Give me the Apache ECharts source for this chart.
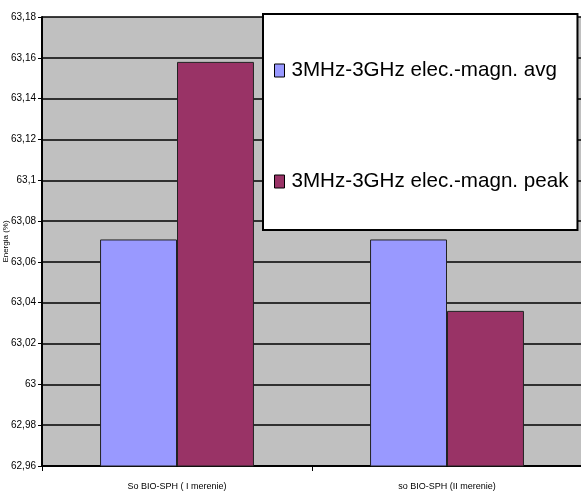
<!DOCTYPE html>
<html>
<head>
<meta charset="utf-8">
<script src="https://cdn.jsdelivr.net/npm/echarts@6/dist/echarts.min.js"></script>
<style>
  html, body { margin: 0; padding: 0; background: #fff; }
  #chart { width: 581px; height: 492px; }
</style>
</head>
<body>
<div id="chart"></div>
<script>
// Measurement groups
const categories = ['So BIO-SPH ( I merenie)', 'so BIO-SPH (II merenie)'];
// Series values (%)
const avgValues = [63.071, 63.071];
const peakValues = [63.158, 63.036];
const seriesNames = ['3MHz-3GHz elec.-magn. avg', '3MHz-3GHz elec.-magn. peak'];
// Value axis range
const yMin = 62.96;
const yMax = 63.18;
const yStep = 0.02;

const labelFont = "'Liberation Sans', Arial, sans-serif";
const chart = echarts.init(document.getElementById('chart'));

chart.setOption({
  animation: false,
  backgroundColor: '#ffffff',
  grid: {
    left: 42, top: 17, right: -1, bottom: 26,
    outerBoundsMode: 'none',
    containLabel: false,
    show: true,
    backgroundColor: '#c0c0c0',
    borderWidth: 0
  },
  legend: {
    orient: 'vertical',
    left: 263,
    top: 14,
    padding: [46, 9, 38, 11],
    itemGap: 90,
    itemWidth: 10,
    itemHeight: 13,
    icon: 'rect',
    backgroundColor: '#ffffff',
    borderColor: '#000000',
    borderWidth: 2,
    textStyle: {
      fontFamily: labelFont,
      fontSize: 20.6,
      color: '#000000',
      padding: [0, 0, 0, 2]
    },
    itemStyle: { borderColor: '#000000', borderWidth: 1 },
    data: seriesNames
  },
  xAxis: {
    type: 'category',
    data: categories,
    axisLine: { lineStyle: { color: '#000000', width: 2 } },
    axisTick: { show: true, length: 5, lineStyle: { color: '#000000', width: 1 } },
    axisLabel: {
      color: '#000000',
      fontFamily: labelFont,
      fontSize: 9,
      margin: 16
    },
    splitLine: { show: false }
  },
  yAxis: {
    type: 'value',
    min: yMin,
    max: yMax,
    interval: yStep,
    name: 'Energia (%)',
    nameLocation: 'middle',
    nameRotate: 90,
    nameGap: 32,
    nameMoveOverlap: false,
    nameTextStyle: { fontFamily: labelFont, fontSize: 8, color: '#000000' },
    axisLine: { show: true, lineStyle: { color: '#000000', width: 2 } },
    axisTick: { show: true, length: 4, lineStyle: { color: '#000000', width: 1 } },
    axisLabel: {
      color: '#000000',
      fontFamily: labelFont,
      fontSize: 10,
      margin: 6,
      formatter: v => String(Math.round(v * 100) / 100).replace('.', ',')
    },
    splitLine: { show: true, lineStyle: { color: '#000000', width: 1.6 } }
  },
  series: [
    {
      name: seriesNames[0],
      type: 'bar',
      data: avgValues,
      barGap: '0%',
      barCategoryGap: '43%',
      itemStyle: { color: '#9999ff', borderColor: '#222222', borderWidth: 1 }
    },
    {
      name: seriesNames[1],
      type: 'bar',
      data: peakValues,
      itemStyle: { color: '#993366', borderColor: '#222222', borderWidth: 1 }
    }
  ]
});
</script>
</body>
</html>
